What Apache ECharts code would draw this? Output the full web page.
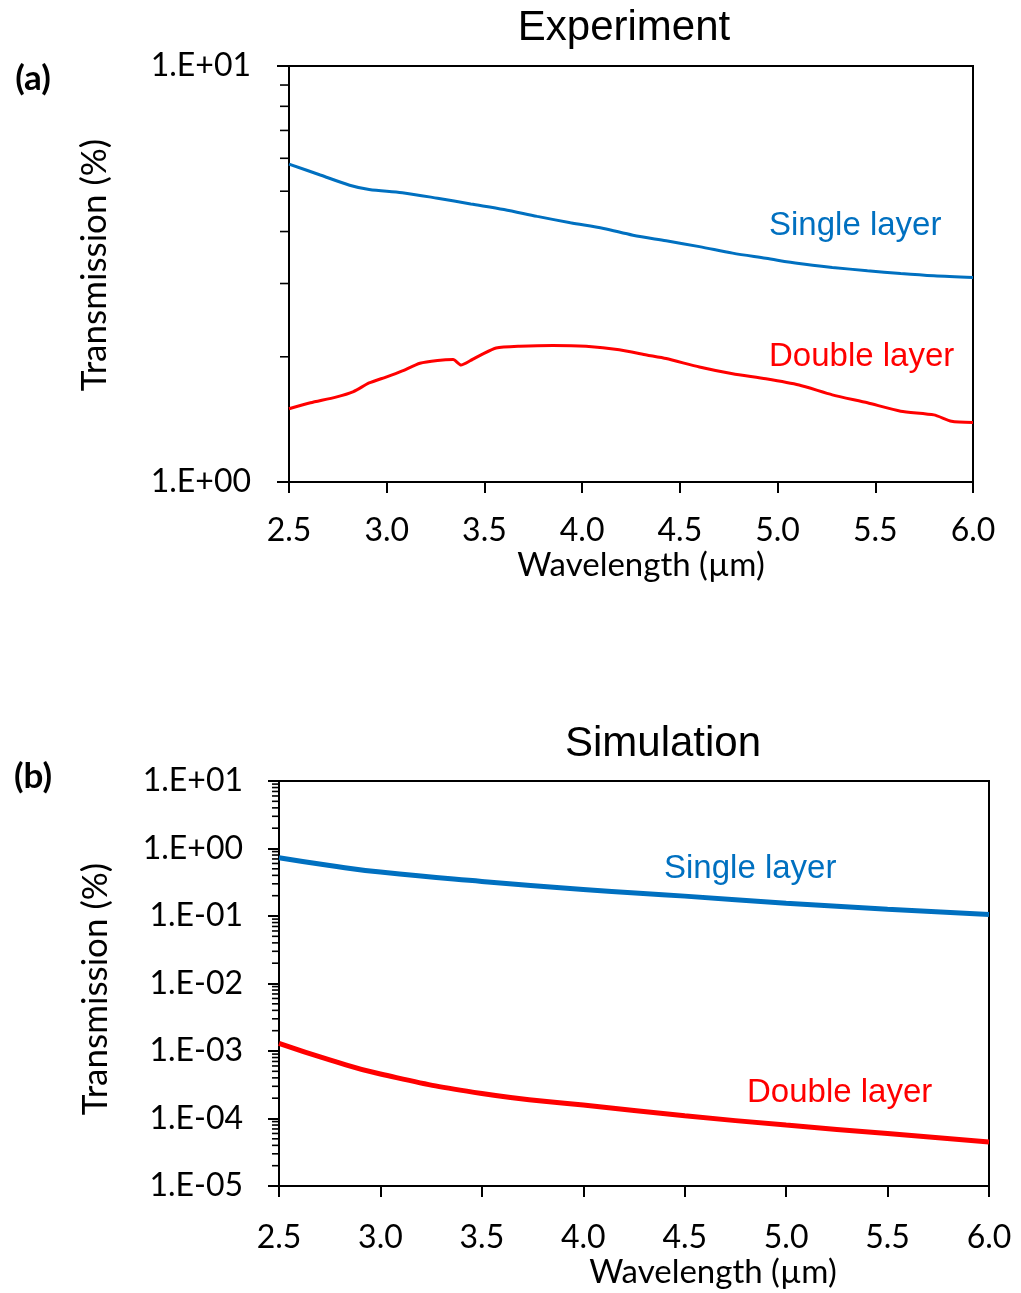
<!DOCTYPE html>
<html>
<head>
<meta charset="utf-8">
<script src="https://cdn.jsdelivr.net/npm/echarts@6/dist/echarts.min.js"></script>
<style>
html,body{margin:0;padding:0;background:#fff;}
#c{width:1021px;height:1293px;}
</style>
</head>
<body>
<div id="c"></div>
<script>
// ---- Data ----
// (a) Experiment
const expSingleX = [2.5, 2.66, 2.81, 2.91, 3.08, 3.26, 3.43, 3.60, 3.77, 3.94, 4.11, 4.26, 4.43, 4.60, 4.77, 4.94, 5.11, 5.28, 5.46, 5.63, 5.80, 6.0];
const expSingleY = [5.81, 5.47, 5.17, 5.05, 4.96, 4.81, 4.66, 4.52, 4.35, 4.20, 4.07, 3.92, 3.80, 3.68, 3.55, 3.45, 3.35, 3.28, 3.22, 3.17, 3.13, 3.10];
const expDoubleX = [2.5, 2.61, 2.74, 2.83, 2.91, 3.0, 3.08, 3.17, 3.26, 3.34, 3.38, 3.43, 3.49, 3.56, 3.68, 3.85, 4.02, 4.19, 4.33, 4.43, 4.60, 4.77, 4.94, 5.11, 5.28, 5.46, 5.63, 5.80, 5.89, 6.0];
const expDoubleY = [1.50, 1.55, 1.60, 1.65, 1.73, 1.79, 1.85, 1.93, 1.96, 1.97, 1.91, 1.96, 2.03, 2.10, 2.12, 2.13, 2.12, 2.08, 2.02, 1.98, 1.89, 1.82, 1.77, 1.71, 1.62, 1.55, 1.48, 1.45, 1.40, 1.39];
// (b) Simulation
const simX = [2.5, 2.75, 3.0, 3.5, 4.0, 4.5, 5.0, 5.5, 6.0];
const simSingleY = [0.73, 0.56, 0.447, 0.325, 0.247, 0.197, 0.155, 0.126, 0.105];
const simDoubleY = [1.30e-3, 7.4e-4, 4.56e-4, 2.35e-4, 1.58e-4, 1.10e-4, 7.98e-5, 6.0e-5, 4.5e-5];
// Axes
const xTickLabels = ['2.5', '3.0', '3.5', '4.0', '4.5', '5.0', '5.5', '6.0'];
const minorMultipliers = [2, 3, 4, 5, 6, 7, 8, 9];
const expDecades = [0];
const simDecades = [-5, -4, -3, -2, -1, 0];

const BLUE = '#0070C0', RED = '#FF0000';
const CAL = 'Lato, "Noto Sans", sans-serif';
const ARIAL = '"Liberation Sans", Arial, sans-serif';

function pairs(xs, ys){ return xs.map((x,i)=>[x, ys[i]]); }
function minorVals(decades){ const out=[]; decades.forEach(d=>minorMultipliers.forEach(m=>out.push([2.5, m*Math.pow(10,d)]))); return out; }
function sciFmt(v){
  const e = Math.round(Math.log10(v));
  const s = e < 0 ? '-' : '+';
  const a = Math.abs(e);
  return '1.E' + s + (a < 10 ? '0' + a : '' + a);
}
function minorSeries(idx, decades, len){
  return {
    type:'custom', xAxisIndex:idx, yAxisIndex:idx, silent:true, clip:false, z:5,
    data: minorVals(decades),
    renderItem:function(params, api){
      const p = api.coord([api.value(0), api.value(1)]);
      return {type:'line', shape:{x1:p[0]-len, y1:p[1], x2:p[0], y2:p[1]}, style:{stroke:'#000', lineWidth:1.6}};
    }
  };
}
const xAxisBase = (gi, margin) => ({
  gridIndex:gi, type:'value', min:2.5, max:6.0, interval:0.5,
  axisLine:{show:true, lineStyle:{color:'#000', width:2}},
  axisTick:{show:true, inside:false, length:11, lineStyle:{color:'#000', width:2}},
  axisLabel:{color:'#000', fontFamily:CAL, fontSize:32, margin:margin,
    formatter:(v)=>{ const i = Math.round((v-2.5)/0.5); return xTickLabels[i] !== undefined ? xTickLabels[i] : ''; }},
  splitLine:{show:false}
});
const yAxisBase = (gi, min, max, margin, tickLen) => ({
  gridIndex:gi, type:'log', logBase:10, min:min, max:max,
  axisLine:{show:true, lineStyle:{color:'#000', width:2}},
  axisTick:{show:true, inside:false, length:tickLen, lineStyle:{color:'#000', width:2}},
  axisLabel:{color:'#000', fontFamily:CAL, fontSize:32, margin:margin, formatter:sciFmt},
  splitLine:{show:false}, minorTick:{show:false}
});

const chart = echarts.init(document.getElementById('c'), null, {renderer:'canvas'});
chart.setOption({
  animation:false,
  backgroundColor:'#fff',
  grid:[
    {left:289, top:66, width:684, height:416, show:true, borderColor:'#000', borderWidth:2, backgroundColor:'transparent'},
    {left:279, top:781, width:710, height:405, show:true, borderColor:'#000', borderWidth:2, backgroundColor:'transparent'}
  ],
  xAxis:[ xAxisBase(0, 33), xAxisBase(1, 36) ],
  yAxis:[ yAxisBase(0, 1, 10, 38, 12), yAxisBase(1, 1e-5, 10, 36, 11) ],
  series:[
    {type:'line', xAxisIndex:0, yAxisIndex:0, data:pairs(expSingleX, expSingleY), showSymbol:false, smooth:0.3,
      lineStyle:{color:BLUE, width:3}, itemStyle:{color:BLUE}},
    {type:'line', xAxisIndex:0, yAxisIndex:0, data:pairs(expDoubleX, expDoubleY), showSymbol:false, smooth:0.2,
      lineStyle:{color:RED, width:3}, itemStyle:{color:RED}},
    {type:'line', xAxisIndex:1, yAxisIndex:1, data:pairs(simX, simSingleY), showSymbol:false, smooth:true,
      lineStyle:{color:BLUE, width:5}, itemStyle:{color:BLUE}},
    {type:'line', xAxisIndex:1, yAxisIndex:1, data:pairs(simX, simDoubleY), showSymbol:false, smooth:true,
      lineStyle:{color:RED, width:5}, itemStyle:{color:RED}},
    minorSeries(0, expDecades, 9),
    minorSeries(1, simDecades, 7)
  ],
  graphic:[
    {type:'text', x:624, y:28, style:{text:'Experiment', font:'42px ' + ARIAL, fill:'#000', align:'center', verticalAlign:'middle'}},
    {type:'text', x:663, y:744, style:{text:'Simulation', font:'42px ' + ARIAL, fill:'#000', align:'center', verticalAlign:'middle'}},
    {type:'text', x:33, y:79, style:{text:'(a)', font:'bold 35px ' + CAL, fill:'#000', align:'center', verticalAlign:'middle'}},
    {type:'text', x:33, y:777, style:{text:'(b)', font:'bold 35px ' + CAL, fill:'#000', align:'center', verticalAlign:'middle'}},
    {type:'text', x:95, y:265, rotation:Math.PI/2, style:{text:'Transmission (%)', font:'35px ' + CAL, fill:'#000', align:'center', verticalAlign:'middle'}},
    {type:'text', x:96, y:989, rotation:Math.PI/2, style:{text:'Transmission (%)', font:'35px ' + CAL, fill:'#000', align:'center', verticalAlign:'middle'}},
    {type:'text', x:641, y:565, style:{text:'Wavelength (µm)', font:'33px ' + CAL, fill:'#000', align:'center', verticalAlign:'middle'}},
    {type:'text', x:713, y:1272, style:{text:'Wavelength (µm)', font:'33px ' + CAL, fill:'#000', align:'center', verticalAlign:'middle'}},
    {type:'text', x:769, y:226, style:{text:'Single layer', font:'33px ' + ARIAL, fill:BLUE, align:'left', verticalAlign:'middle'}},
    {type:'text', x:769, y:357, style:{text:'Double layer', font:'33px ' + ARIAL, fill:RED, align:'left', verticalAlign:'middle'}},
    {type:'text', x:664, y:869, style:{text:'Single layer', font:'33px ' + ARIAL, fill:BLUE, align:'left', verticalAlign:'middle'}},
    {type:'text', x:747, y:1093, style:{text:'Double layer', font:'33px ' + ARIAL, fill:RED, align:'left', verticalAlign:'middle'}}
  ]
});
</script>
</body>
</html>
